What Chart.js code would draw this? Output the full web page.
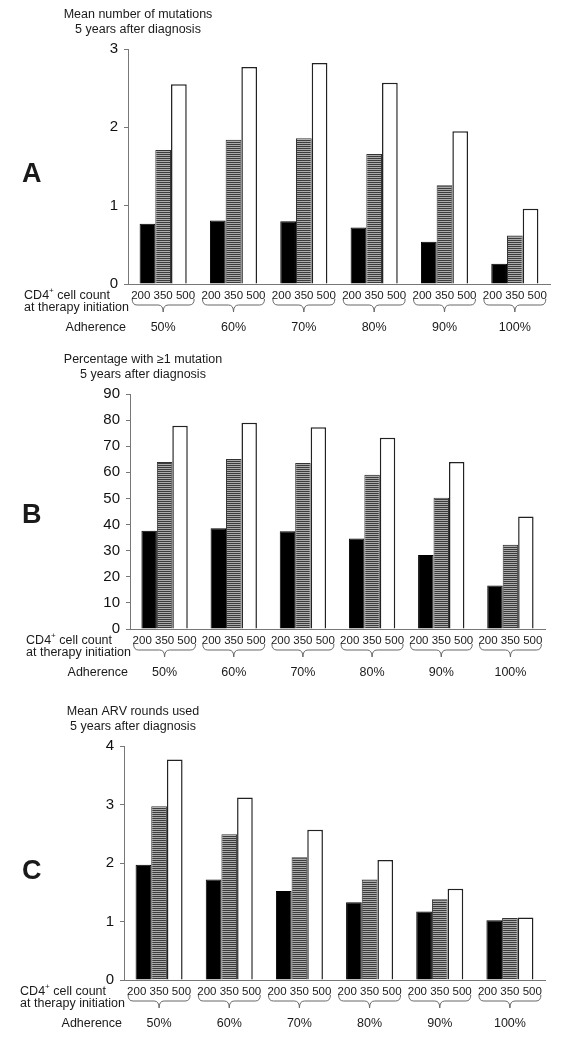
<!DOCTYPE html>
<html>
<head>
<meta charset="utf-8">
<script src="https://cdn.jsdelivr.net/npm/chart.js@4.4.1/dist/chart.umd.min.js"></script>
<style>
  html, body { margin: 0; padding: 0; background: #fff; }
  #wrap { position: relative; width: 566px; height: 1050px; }
  .panel { position: absolute; left: 0; width: 566px; }
</style>
</head>
<body>
<div id="wrap">
  <div class="panel" style="top:0;height:345px"><canvas id="chartA"></canvas></div>
  <div class="panel" style="top:345px;height:345px"><canvas id="chartB"></canvas></div>
  <div class="panel" style="top:690px;height:360px"><canvas id="chartC"></canvas></div>
</div>
<script>
// categories
const adherence = ['50%', '60%', '70%', '80%', '90%', '100%'];
const cd4Levels = ['200', '350', '500'];

// A - mean number of mutations, 5 years after diagnosis
const mutations200 = [0.77, 0.81, 0.80, 0.72, 0.54, 0.26];
const mutations350 = [1.71, 1.84, 1.86, 1.66, 1.26, 0.62];
const mutations500 = [2.55, 2.77, 2.82, 2.57, 1.95, 0.96];
const ticksA = [0, 1, 2, 3];

// B - percentage with >=1 mutation
const percent200 = [37.6, 38.6, 37.4, 34.7, 28.3, 16.7];
const percent350 = [64.0, 65.1, 63.6, 59.1, 50.3, 32.3];
const percent500 = [77.8, 79.0, 77.3, 73.2, 64.0, 43.1];
const ticksB = [0, 10, 20, 30, 40, 50, 60, 70, 80, 90];

// C - mean ARV rounds used
const arv200 = [1.97, 1.72, 1.52, 1.33, 1.17, 1.02];
const arv350 = [2.97, 2.49, 2.10, 1.72, 1.38, 1.06];
const arv500 = [3.77, 3.12, 2.57, 2.05, 1.56, 1.07];
const ticksC = [0, 1, 2, 3, 4];

const FONT = '"Liberation Sans", Arial, sans-serif';

// horizontal stripes for the 350 bars
function makeStripes() {
  const c = document.createElement('canvas');
  c.width = 4; c.height = 2;
  const g = c.getContext('2d');
  g.fillStyle = '#ababab'; g.fillRect(0, 0, 4, 2);
  g.fillStyle = '#3c3c3c'; g.fillRect(0, 0, 4, 1);
  return g.createPattern(c, 'repeat');
}
const stripes = makeStripes();

function drawBrace(ctx, x0, x1, yTop, yMid, yTip) {
  const xc = (x0 + x1) / 2, r = 5;
  ctx.beginPath();
  ctx.moveTo(x0, yTop);
  ctx.quadraticCurveTo(x0, yMid, x0 + r, yMid);
  ctx.lineTo(xc - r, yMid);
  ctx.quadraticCurveTo(xc, yMid, xc, yTip);
  ctx.quadraticCurveTo(xc, yMid, xc + r, yMid);
  ctx.lineTo(x1 - r, yMid);
  ctx.quadraticCurveTo(x1, yMid, x1, yTop);
  ctx.stroke();
}

function makePanel(id, cfg) {
  const decor = {
    id: 'decor' + id,
    afterDraw(chart) {
      const ctx = chart.ctx;
      const area = chart.chartArea;
      const xs = chart.scales.x;
      ctx.save();
      ctx.fillStyle = '#1a1a1a';
      ctx.textBaseline = 'middle';

      // title
      ctx.font = '12.5px ' + FONT;
      ctx.textAlign = 'center';
      cfg.title.forEach((t, i) => ctx.fillText(t, cfg.titleX, cfg.titleY + i * 15));

      // panel letter
      ctx.font = 'bold 27px ' + FONT;
      ctx.textAlign = 'left';
      ctx.fillText(cfg.letter, 22, cfg.letterY);

      // groups under the axis
      ctx.strokeStyle = '#666';
      ctx.lineWidth = 1;
      adherence.forEach((a, i) => {
        const cx = xs.getPixelForValue(i);
        ctx.textAlign = 'center';
        ctx.font = '11.5px ' + FONT;
        ctx.fillText(cd4Levels.join(' '), cx, area.bottom + 12);
        drawBrace(ctx, cx - 31, cx + 31, area.bottom + 15, area.bottom + 21, area.bottom + 28);
        ctx.font = '12.5px ' + FONT;
        ctx.fillText(a, cx, area.bottom + 44);
      });

      // left labels
      ctx.font = '12.5px ' + FONT;
      const line2 = 'at therapy initiation';
      const x0 = area.left + 1 - ctx.measureText(line2).width;
      ctx.textAlign = 'left';
      let x = x0;
      ctx.fillText('CD4', x, area.bottom + 12);
      x += ctx.measureText('CD4').width;
      ctx.font = '8px ' + FONT;
      ctx.fillText('+', x, area.bottom + 7);
      x += ctx.measureText('+').width;
      ctx.font = '12.5px ' + FONT;
      ctx.fillText(' cell count', x, area.bottom + 12);
      ctx.fillText(line2, x0, area.bottom + 24);
      ctx.textAlign = 'right';
      ctx.fillText('Adherence', area.left - 2, area.bottom + 44);
      ctx.restore();
    }
  };

  return new Chart(document.getElementById(id), {
    type: 'bar',
    data: {
      labels: adherence,
      datasets: [
        { label: cd4Levels[0], data: cfg.values[0], backgroundColor: '#000', borderColor: '#000', borderWidth: 1 },
        { label: cd4Levels[1], data: cfg.values[1], backgroundColor: stripes, borderColor: '#333', borderWidth: 1 },
        { label: cd4Levels[2], data: cfg.values[2], backgroundColor: '#fff', borderColor: '#222', borderWidth: 1.5 }
      ]
    },
    options: {
      responsive: true,
      maintainAspectRatio: false,
      animation: false,
      events: [],
      layout: { padding: { left: 0, top: cfg.top, right: 566 - cfg.right, bottom: 0 } },
      datasets: { bar: { barPercentage: 1, categoryPercentage: 0.67 } },
      plugins: { legend: { display: false }, tooltip: { enabled: false } },
      scales: {
        x: {
          grid: { display: false },
          ticks: { display: false },
          border: { color: '#777', width: 1 },
          afterFit: s => { s.height = cfg.height - cfg.bottom; }
        },
        y: {
          min: cfg.ticks[0],
          max: cfg.ticks[cfg.ticks.length - 1],
          ticks: {
            stepSize: cfg.ticks[1] - cfg.ticks[0],
            font: { size: 15, family: FONT },
            color: '#111',
            padding: 6
          },
          grid: { drawOnChartArea: false, tickLength: 4, color: '#777' },
          border: { color: '#777', width: 1 },
          afterFit: s => { s.width = cfg.left; }
        }
      }
    },
    plugins: [decor]
  });
}

makePanel('chartA', {
  values: [mutations200, mutations350, mutations500], ticks: ticksA,
  title: ['Mean number of mutations', '5 years after diagnosis'],
  letter: 'A', height: 345, left: 128, right: 550, top: 49, bottom: 284,
  titleX: 138, titleY: 15, letterY: 175
});
makePanel('chartB', {
  values: [percent200, percent350, percent500], ticks: ticksB,
  title: ['Percentage with \u22651 mutation', '5 years after diagnosis'],
  letter: 'B', height: 345, left: 130, right: 545, top: 49, bottom: 284,
  titleX: 143, titleY: 15, letterY: 171
});
makePanel('chartC', {
  values: [arv200, arv350, arv500], ticks: ticksC,
  title: ['Mean ARV rounds used', '5 years after diagnosis'],
  letter: 'C', height: 360, left: 124, right: 545, top: 56, bottom: 290,
  titleX: 133, titleY: 22, letterY: 182
});
</script>
</body>
</html>
